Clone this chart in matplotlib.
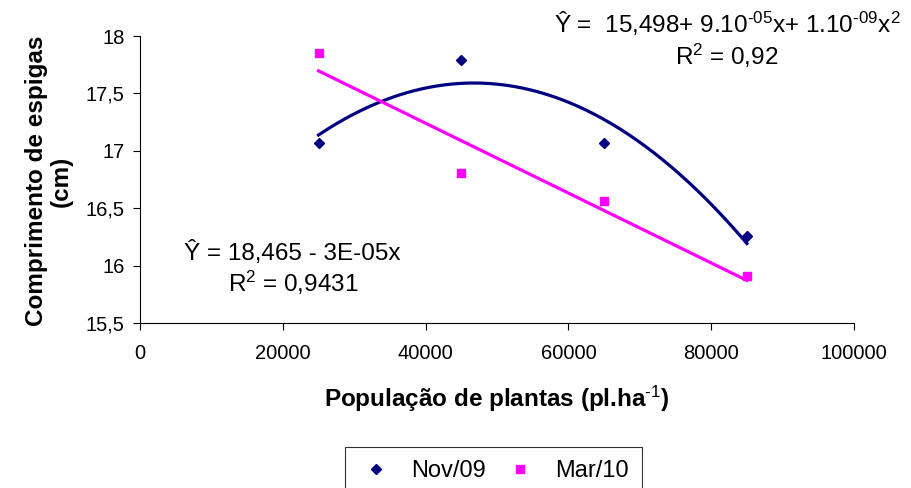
import numpy as np
import matplotlib
matplotlib.use("Agg")
import matplotlib.pyplot as plt
from matplotlib.lines import Line2D

plt.rcParams['font.family'] = ['Liberation Sans', 'DejaVu Sans']
plt.rcParams['mathtext.fontset'] = 'custom'
plt.rcParams['mathtext.rm'] = 'Liberation Sans'
plt.rcParams['mathtext.it'] = 'Liberation Sans'
plt.rcParams['mathtext.bf'] = 'Liberation Sans:bold'

# Data
populacao = [25000, 45000, 65000, 85000]
nov09 = [17.07, 17.79, 17.07, 16.26]
mar10 = [17.855, 16.81, 16.56, 15.91]
x_ticks = [0, 20000, 40000, 60000, 80000, 100000]
y_ticks = [15.5, 16.0, 16.5, 17.0, 17.5, 18.0]
y_tick_labels = ["15,5", "16", "16,5", "17", "17,5", "18"]

navy = "#000080"
magenta = "#FF00FF"

fig = plt.figure(figsize=(9.11, 4.88), dpi=100)
ax = fig.add_axes([140/911, 1-323/488, (854-140)/911, (323-36)/488])

xs = np.array(populacao, dtype=float)
xfit = np.linspace(xs.min(), xs.max(), 200)
p_nov = np.polyfit(xs, nov09, 2)
p_mar = np.polyfit(xs, mar10, 1)

ax.plot(xfit, np.polyval(p_nov, xfit), color=navy, lw=2.3, zorder=2)
ax.plot(xfit, np.polyval(p_mar, xfit), color=magenta, lw=2.3, zorder=2)
ax.plot(xs, nov09, linestyle='none', marker='D', markersize=5, color=navy, zorder=3)
ax.plot(xs, mar10, linestyle='none', marker='s', markersize=6, color=magenta, zorder=3)

ax.set_xlim(0, 100000)
ax.set_ylim(15.5, 18)
ax.set_xticks(x_ticks)
ax.set_xticklabels([str(t) for t in x_ticks])
ax.set_yticks(y_ticks)
ax.set_yticklabels(y_tick_labels)
ax.tick_params(axis='both', labelsize=14.5, direction='out', length=5, width=0.8, color='black')
ax.tick_params(axis='x', pad=10)
ax.tick_params(axis='y', pad=6)
for s in ['top', 'right']:
    ax.spines[s].set_visible(False)
for s in ['left', 'bottom']:
    ax.spines[s].set_color('black')
    ax.spines[s].set_linewidth(0.8)

fig.text(497/911, 1-407/488, "População de plantas (pl.ha$^{\\mathbf{\\text{-1}}}$)", ha='center', va='baseline',
         fontsize=17.5, fontweight='bold')
fig.text(49/911, 1-181/488, "Comprimento de espigas\n(cm)", ha='center', va='center',
         rotation=90, fontsize=17.5, fontweight='bold', linespacing=1.1)

fig.text(727/911, 1-33/488, "Ŷ =  15,498+ 9.10$^{\\text{-05}}$x+ 1.10$^{\\text{-09}}$x$^{2}$", ha='center', va='baseline', fontsize=17.5)
fig.text(727/911, 1-65/488, "R$^{2}$ = 0,92", ha='center', va='baseline', fontsize=17.5)
fig.text(292/911, 1-260/488, "Ŷ = 18,465 - 3E-05x", ha='center', va='baseline', fontsize=17.5)
fig.text(293/911, 1-292/488, "R$^{2}$ = 0,9431", ha='center', va='baseline', fontsize=17.5)

handles = [Line2D([], [], linestyle='none', marker='D', markersize=5, color=navy),
           Line2D([], [], linestyle='none', marker='s', markersize=6, color=magenta)]
leg = fig.legend(handles, ["Nov/09", "Mar/10"], loc='upper left',
                 bbox_to_anchor=(345/911, 1-447/488), ncol=2, fontsize=17,
                 frameon=True, fancybox=False, shadow=False, borderpad=0.55,
                 handlelength=1.5, columnspacing=0.7, handletextpad=0.75, borderaxespad=0)
leg.get_frame().set_edgecolor('black')
leg.get_frame().set_linewidth(0.8)

fig.savefig("out.png", dpi=100)
